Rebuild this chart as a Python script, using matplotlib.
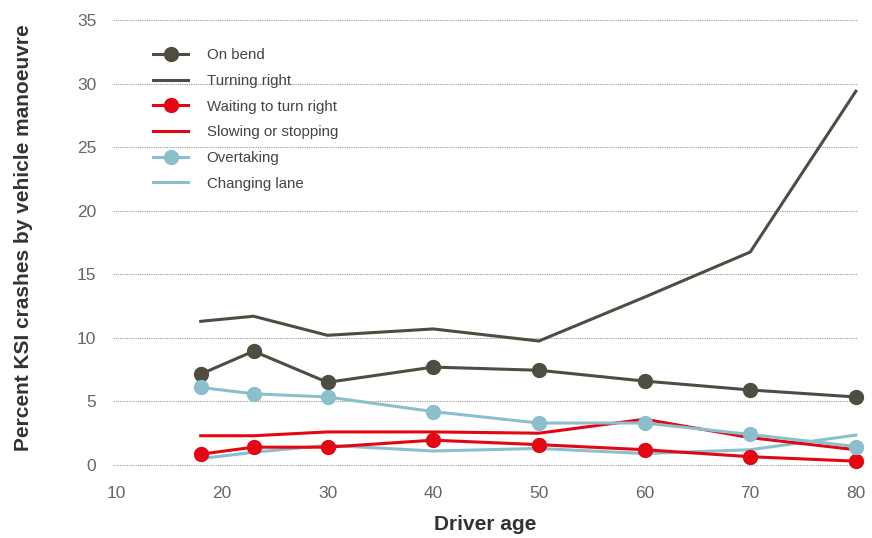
import matplotlib
matplotlib.use("Agg")
import matplotlib.pyplot as plt

plt.rcParams['font.family'] = ['Liberation Sans', 'DejaVu Sans']

ages = [18, 23, 30, 40, 50, 60, 70, 80]
on_bend = [7.15, 8.95, 6.5, 7.7, 7.45, 6.6, 5.9, 5.35]
turning_right = [11.3, 11.7, 10.2, 10.7, 9.75, 13.2, 16.75, 29.4]
waiting_turn_right = [0.85, 1.4, 1.4, 1.95, 1.6, 1.2, 0.65, 0.3]
slowing_stopping = [2.3, 2.3, 2.6, 2.6, 2.5, 3.6, 2.15, 1.2]
overtaking = [6.1, 5.6, 5.35, 4.2, 3.3, 3.3, 2.4, 1.45]
changing_lane = [0.5, 1.0, 1.55, 1.1, 1.3, 0.9, 1.2, 2.35]

x_ticks = [10, 20, 30, 40, 50, 60, 70, 80]
y_ticks = [0, 5, 10, 15, 20, 25, 30, 35]

DARK = '#4f4c42'
RED = '#e30613'
BLUE = '#8bbfcc'

fig = plt.figure(figsize=(8.72, 5.38), dpi=100)
ax = fig.add_axes([113 / 872, 1 - 466 / 538, (858 - 113) / 872, (466 - 19) / 538])

lw = 2.2
ms = 10
ax.plot(ages, on_bend, color=DARK, lw=lw, marker='o', ms=ms, label='On bend', clip_on=False, zorder=5)
ax.plot(ages, turning_right, color=DARK, lw=lw, label='Turning right', clip_on=False, zorder=4)
ax.plot(ages, waiting_turn_right, color=RED, lw=lw, marker='o', ms=ms, label='Waiting to turn right', clip_on=False, zorder=5)
ax.plot(ages, slowing_stopping, color=RED, lw=lw, label='Slowing or stopping', clip_on=False, zorder=4)
ax.plot(ages, overtaking, color=BLUE, lw=lw, marker='o', ms=ms, label='Overtaking', clip_on=False, zorder=5)
ax.plot(ages, changing_lane, color=BLUE, lw=lw, label='Changing lane', clip_on=False, zorder=3)

ax.set_xlim(9.7, 80.2)
ax.set_ylim(-0.08, 35.08)
ax.set_xticks(x_ticks)
ax.set_yticks(y_ticks)
ax.tick_params(length=0, labelsize=12.5, labelcolor='#666666')
ax.tick_params(axis='y', pad=12)
ax.tick_params(axis='x', pad=14.5)

for s in ax.spines.values():
    s.set_visible(False)
ax.grid(axis='y', color='#9a9a9a', linestyle=(0, (1, 1)), linewidth=0.8)
ax.set_axisbelow(True)

ax.set_xlabel('Driver age', fontsize=15, fontweight='bold', color='#333333', labelpad=10)
ax.set_ylabel('Percent KSI crashes by vehicle manoeuvre', fontsize=15, fontweight='bold',
              color='#333333')
ax.yaxis.set_label_coords(-0.107, 0.51)

leg = ax.legend(loc='upper left', bbox_to_anchor=(0.036, 0.965), frameon=False,
                fontsize=10.8, handlelength=2.3, handletextpad=1.25, labelspacing=0.78,
                labelcolor='#444444')

fig.savefig('out.png', dpi=100, facecolor='white')
